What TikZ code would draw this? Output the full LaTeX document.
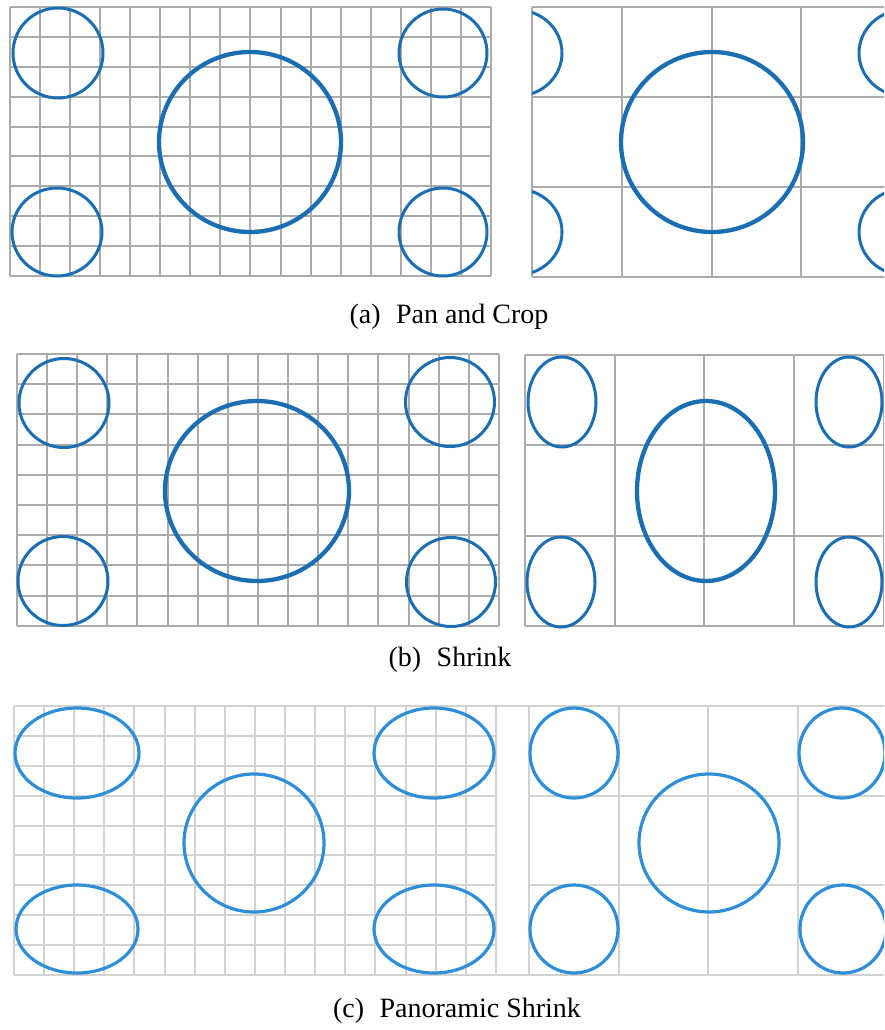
\documentclass[tikz,border=0pt]{standalone}
\usepackage{fontspec}
\setmainfont{Liberation Serif}
\definecolor{blueAB}{HTML}{1B6EB2}
\definecolor{blueC}{HTML}{2E8ED8}
\definecolor{grayAB}{HTML}{ABABAB}
\definecolor{grayC}{HTML}{D2D2D2}
\tikzset{
  gridAB/.style={draw=grayAB, line width=2pt},
  gridC/.style={draw=grayC, line width=2pt},
  smallAB/.style={draw=blueAB, line width=3pt},
  bigAB/.style={draw=blueAB, line width=4.3pt},
  ringC/.style={draw=blueC, line width=3.2pt},
  caption/.style={anchor=base, inner sep=0pt, font=\fontsize{28}{30}\selectfont}
}
\newcommand{\mygrid}[7]{%
  \pgfmathsetmacro{\gxe}{round(#2+#6*#4)}%
  \pgfmathsetmacro{\gye}{round(#3+#7*#5)}%
  \foreach \i in {0,...,#6} {%
    \pgfmathsetmacro{\gx}{round(#2+\i*#4)}%
    \draw[#1] (\gx,#3) -- (\gx,\gye);}
  \foreach \j in {0,...,#7} {%
    \pgfmathsetmacro{\gy}{round(#3+\j*#5)}%
    \draw[#1] (#2,\gy) -- (\gxe,\gy);}
}
\begin{document}
\begin{tikzpicture}[x=1pt,y=-1pt]
\useasboundingbox (0,0) rectangle (884,1030);
\clip (0,0) rectangle (884,1030);
\fill[white] (0,0) rectangle (884,1030);

% ---------- (a) Pan and Crop ----------
\mygrid{gridAB}{10}{7}{30.06}{29.9}{16}{9}
\draw[smallAB] (58,53) ellipse [x radius=45pt, y radius=45pt];
\draw[smallAB] (57,232) ellipse [x radius=45pt, y radius=44pt];
\draw[smallAB] (443,53) ellipse [x radius=44pt, y radius=44pt];
\draw[smallAB] (443,232) ellipse [x radius=44pt, y radius=44pt];
\draw[bigAB] (250,142) ellipse [x radius=91pt, y radius=90pt];

\mygrid{gridAB}{532}{7}{89.8}{90}{4}{3}
\begin{scope}
  \clip (532,0) rectangle (884,290);
  \draw[smallAB] (517,53) ellipse [x radius=45pt, y radius=43pt];
  \draw[smallAB] (517,232) ellipse [x radius=45pt, y radius=43pt];
  \draw[smallAB] (904,53) ellipse [x radius=45pt, y radius=43pt];
  \draw[smallAB] (904,232) ellipse [x radius=45pt, y radius=43pt];
\end{scope}
\draw[bigAB] (712,142) ellipse [x radius=91pt, y radius=90pt];
\node[caption] (capa) at (449,323) {(a)\hspace{0.55em}Pan and Crop};

% ---------- (b) Shrink ----------
\mygrid{gridAB}{17}{354}{30.12}{30.2}{16}{9}
\draw[smallAB] (64,403) ellipse [x radius=45pt, y radius=44.5pt];
\draw[smallAB] (63,581) ellipse [x radius=45pt, y radius=44.5pt];
\draw[smallAB] (450,402) ellipse [x radius=44.5pt, y radius=44.5pt];
\draw[smallAB] (451,582) ellipse [x radius=44.5pt, y radius=44.5pt];
\draw[bigAB] (257,491) ellipse [x radius=92pt, y radius=90pt];

\mygrid{gridAB}{525}{355}{89.7}{90.3}{4}{3}
\draw[smallAB] (562,402) ellipse [x radius=34pt, y radius=45pt];
\draw[smallAB] (561,582) ellipse [x radius=34pt, y radius=45pt];
\draw[smallAB] (849,402) ellipse [x radius=33pt, y radius=45pt];
\draw[smallAB] (849,582) ellipse [x radius=33pt, y radius=45pt];
\draw[bigAB] (706,491) ellipse [x radius=69pt, y radius=90pt];
\node[caption] (capb) at (450,666) {(b)\hspace{0.55em}Shrink};

% ---------- (c) Panoramic Shrink ----------
\draw[gridC] (496,706) -- (529,706);
\draw[gridC] (496,975) -- (529,975);
\mygrid{gridC}{14}{706}{30.12}{29.9}{16}{9}
\draw[ringC] (77,753) ellipse [x radius=62pt, y radius=45pt];
\draw[ringC] (77,929) ellipse [x radius=61pt, y radius=44pt];
\draw[ringC] (434,753) ellipse [x radius=60pt, y radius=45pt];
\draw[ringC] (434,929) ellipse [x radius=60pt, y radius=44pt];
\draw[ringC] (254,843) ellipse [x radius=70pt, y radius=69pt];

\mygrid{gridC}{529}{706}{89.7}{89.7}{4}{3}
\draw[ringC] (574,753) ellipse [x radius=44pt, y radius=45pt];
\draw[ringC] (574,929) ellipse [x radius=44pt, y radius=44pt];
\draw[ringC] (842,753) ellipse [x radius=43pt, y radius=45pt];
\draw[ringC] (843,929) ellipse [x radius=43pt, y radius=44pt];
\draw[ringC] (709,843) ellipse [x radius=70pt, y radius=69pt];
\node[caption] (capc) at (457,1017) {(c)\hspace{0.55em}Panoramic Shrink};
\end{tikzpicture}
\end{document}
